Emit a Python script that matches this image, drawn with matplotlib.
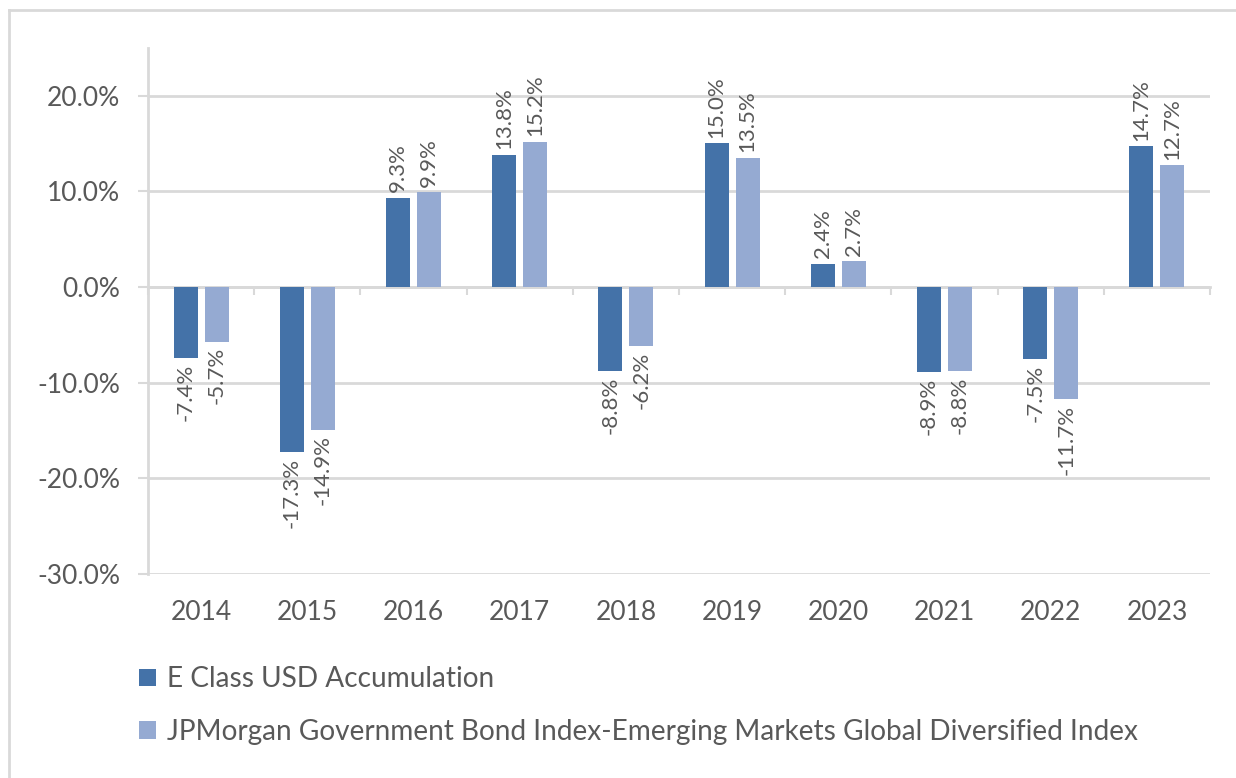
import matplotlib
matplotlib.use("Agg")
import matplotlib.pyplot as plt
from matplotlib.lines import Line2D
from matplotlib.patches import Patch
import numpy as np

years = ["2014", "2015", "2016", "2017", "2018", "2019", "2020", "2021", "2022", "2023"]
e_class = [-7.4, -17.3, 9.3, 13.8, -8.8, 15.0, 2.4, -8.9, -7.5, 14.7]
jpm_index = [-5.7, -14.9, 9.9, 15.2, -6.2, 13.5, 2.7, -8.8, -11.7, 12.7]
series_names = ["E Class USD Accumulation",
                "JPMorgan Government Bond Index-Emerging Markets Global Diversified Index"]

dark = "#4472a8"
light = "#95aad2"
grey = "#d9d9d9"
txt = "#595959"

plt.rcParams["font.family"] = ["Lato", "DejaVu Sans"]

fig = plt.figure(figsize=(12.36, 7.78), dpi=100)
ax = fig.add_axes([0.1197, 0.2622, 0.979 - 0.1197, 0.9386 - 0.2622])

x = np.arange(len(years))
w = 0.226
off = 0.146
b1 = ax.bar(x - off, e_class, w, color=dark, zorder=3)
b2 = ax.bar(x + off, jpm_index, w, color=light, zorder=3)

# rotated value labels above / below each bar
for bars, vals in ((b1, e_class), (b2, jpm_index)):
    for rect, v in zip(bars, vals):
        cx = rect.get_x() + rect.get_width() / 2
        ax.annotate(f"{v:.1f}%", (cx, v), xytext=(0, 4 if v >= 0 else -4),
                    textcoords="offset points", rotation=90, ha="center",
                    va="bottom" if v >= 0 else "top", fontsize=16, color=txt)

ax.set_xlim(-0.5, len(years) - 0.5)
ax.set_ylim(-30, 25)
yt = np.arange(-30, 21, 10)
ax.set_yticks(yt)
ax.set_yticklabels([f"{t:.1f}%" for t in yt])
ax.set_xticks(x)
ax.set_xticklabels(years)
ax.tick_params(axis="x", length=0, pad=19, labelsize=19, labelcolor=txt)
ax.tick_params(axis="y", length=7.2, width=1.5, color=grey, pad=13, labelsize=19, labelcolor=txt)
ax.grid(axis="y", color=grey, linewidth=2, zorder=0)
ax.set_axisbelow(True)
for s in ("top", "right", "bottom"):
    ax.spines[s].set_visible(False)
ax.spines["left"].set_color(grey)
ax.spines["left"].set_linewidth(2)

# category axis line sits at zero
sec = ax.secondary_xaxis(0, transform=ax.transData)
sec.set_xticks(np.arange(-0.5, len(years), 1.0))
sec.set_xticklabels([])
sec.tick_params(length=6, width=1.5, color=grey, direction="out")
sec.spines["bottom"].set_color(grey)
sec.spines["bottom"].set_linewidth(2)

handles = [Patch(facecolor=dark), Patch(facecolor=light)]
fig.legend(handles, series_names, loc="upper left",
           bbox_to_anchor=(0.092, 0.176), frameon=False, fontsize=20.2,
           handlelength=0.6, handleheight=0.6, handletextpad=0.4,
           labelspacing=0.95, labelcolor=txt)

fig.add_artist(Line2D([9 / 1236, 9 / 1236], [0, 1 - 10 / 778], color=grey, lw=2))
fig.add_artist(Line2D([9 / 1236, 1], [1 - 10 / 778, 1 - 10 / 778], color=grey, lw=2))

fig.savefig("out.png", dpi=100, facecolor="white")
